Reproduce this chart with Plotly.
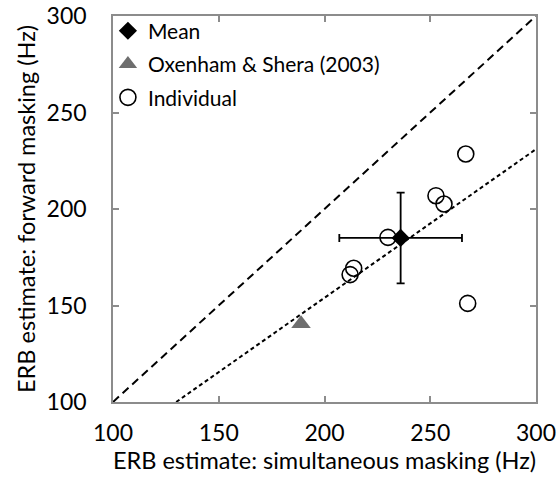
import plotly.graph_objects as go

# Data
ind_x = [266.8, 252.7, 256.5, 230.0, 213.8, 212.1, 267.7]
ind_y = [228.5, 206.9, 202.6, 185.3, 169.3, 166.0, 151.1]
mean_x = [236.0]
mean_y = [185.0]
mean_err_x = [29.0]
mean_err_y = [23.5]
os_x = [188.9]
os_y = [140.5]
line1_x = [100, 300]
line1_y = [100, 300]
ratio = 0.77
line2_x = [100 / ratio, 300]
line2_y = [100, 300 * ratio]

FONT = "Lato"
fig = go.Figure()
fig.add_trace(go.Scatter(x=line1_x, y=line1_y, mode="lines", showlegend=False,
                         line=dict(color="black", width=2, dash="8px,5px"), hoverinfo="skip"))
fig.add_trace(go.Scatter(x=line2_x, y=line2_y, mode="lines", showlegend=False,
                         line=dict(color="black", width=2, dash="4px,3px"), hoverinfo="skip"))
fig.add_trace(go.Scatter(x=ind_x, y=ind_y, mode="markers", name="Individual", legendrank=3,
                         legendgroup="c",
                         marker=dict(symbol="circle-open", size=16, color="black", line=dict(width=1.6))))
fig.add_trace(go.Scatter(x=os_x, y=os_y, mode="markers", name="Oxenham & Shera (2003)", legendrank=2,
                         legendgroup="b",
                         marker=dict(symbol="triangle-up", size=17, color="#6e6e6e")))
fig.add_trace(go.Scatter(x=mean_x, y=mean_y, mode="markers", name="Mean", legendrank=1,
                         legendgroup="a",
                         marker=dict(symbol="diamond", size=14, color="black"),
                         error_x=dict(type="data", array=mean_err_x, color="black", thickness=1.8, width=4),
                         error_y=dict(type="data", array=mean_err_y, color="black", thickness=1.8, width=4)))

axis_common = dict(range=[100, 300], tickvals=[100, 150, 200, 250, 300], ticks="inside", ticklen=6,
                   tickcolor="#8c8c8c", tickwidth=1.5, showline=True, linecolor="#8c8c8c", linewidth=1.5,
                   mirror="ticks", showgrid=False, zeroline=False,
                   tickfont=dict(family=FONT, size=23, color="black"))
fig.update_xaxes(**axis_common, title=dict(text="ERB estimate: simultaneous masking (Hz)",
                                           font=dict(family=FONT, size=23.5, color="black"), standoff=7),
                 ticklabelstandoff=10)
fig.update_yaxes(**axis_common, title=dict(text="ERB estimate: forward masking (Hz)",
                                           font=dict(family=FONT, size=23.5, color="black"), standoff=4),
                 ticklabelstandoff=20)
fig.update_layout(width=560, height=485, margin=dict(l=113, r=24, t=16, b=83, autoexpand=False),
                  plot_bgcolor="white", paper_bgcolor="white",
                  legend=dict(x=-0.012, y=1.014, xanchor="left", yanchor="top", bgcolor="rgba(0,0,0,0)",
                              font=dict(family=FONT, size=21, color="black"), itemwidth=30,
                              tracegroupgap=3, traceorder="grouped"),
                  showlegend=True)
fig.write_html("out.html")
